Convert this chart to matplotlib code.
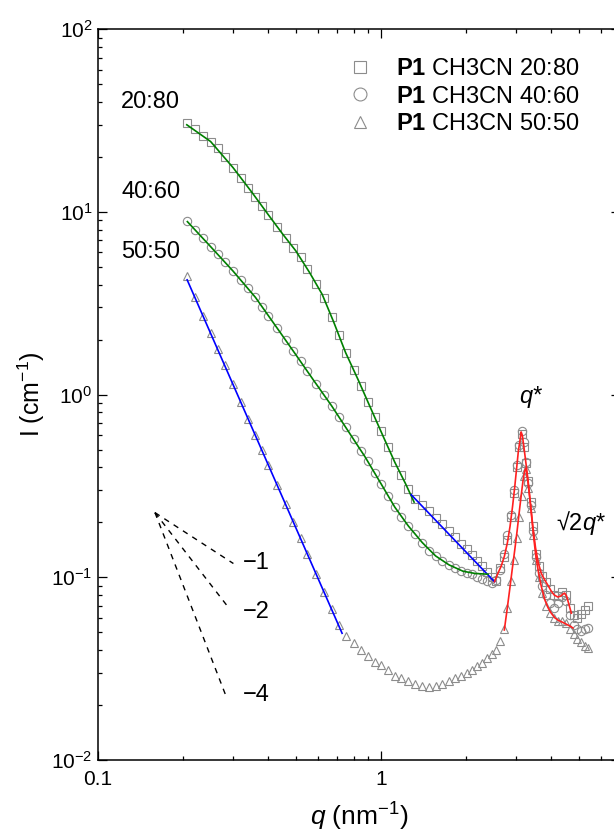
import numpy as np
import matplotlib
matplotlib.use("Agg")
import matplotlib.pyplot as plt
from matplotlib.ticker import LogLocator, NullFormatter, FixedLocator, FixedFormatter

plt.rcParams['font.family'] = ['Liberation Sans', 'DejaVu Sans']
plt.rcParams['mathtext.fontset'] = 'custom'
plt.rcParams['mathtext.rm'] = 'Liberation Sans'
plt.rcParams['mathtext.it'] = 'Liberation Sans:italic'
plt.rcParams['mathtext.bf'] = 'Liberation Sans:bold'
plt.rcParams['mathtext.default'] = 'regular'

# shared q grid (nm^-1) of the measured curves
q = [0.206, 0.22, 0.235, 0.25, 0.265, 0.28, 0.30, 0.32, 0.34, 0.36,
     0.38, 0.40, 0.43, 0.46, 0.49, 0.52, 0.55, 0.59, 0.63, 0.67,
     0.71, 0.75, 0.80, 0.85, 0.90, 0.95, 1.00, 1.06, 1.12, 1.18,
     1.25, 1.32, 1.40, 1.48, 1.56, 1.65, 1.74, 1.83, 1.92, 2.01,
     2.10, 2.19, 2.28, 2.37, 2.46, 2.55, 2.64, 2.72, 2.80, 2.88,
     2.95, 3.02, 3.08, 3.14, 3.20, 3.26, 3.32, 3.38, 3.45, 3.53,
     3.62, 3.72, 3.83, 3.95, 4.08, 4.22, 4.36, 4.50, 4.65, 4.80,
     4.95, 5.10, 5.25, 5.40]

# P1 CH3CN 20:80 (squares)
I_2080 = [30.5, 28.3, 26.1, 24.3, 22.5, 20.1, 17.5, 15.4, 13.6, 12.1,
          10.8, 9.65, 8.28, 7.23, 6.38, 5.67, 4.88, 4.05, 3.40, 2.66,
          2.12, 1.70, 1.37, 1.11, 0.91, 0.754, 0.630, 0.514, 0.426, 0.362,
          0.303, 0.27, 0.25, 0.23, 0.212, 0.195, 0.18, 0.166, 0.153, 0.142,
          0.132, 0.123, 0.115, 0.107, 0.100, 0.096, 0.112, 0.13, 0.16, 0.215,
          0.29, 0.40, 0.52, 0.61, 0.52, 0.42, 0.335, 0.26, 0.19, 0.135,
          0.115, 0.102, 0.094, 0.086, 0.080, 0.079, 0.083, 0.080, 0.068, 0.062,
          0.060, 0.063, 0.066, 0.070]

# P1 CH3CN 40:60 (circles)
I_4060 = [8.9, 8.0, 7.16, 6.46, 5.9, 5.34, 4.75, 4.25, 3.84, 3.41,
          3.03, 2.71, 2.31, 1.99, 1.73, 1.52, 1.34, 1.15, 0.994, 0.867,
          0.758, 0.665, 0.570, 0.494, 0.431, 0.373, 0.326, 0.280, 0.242, 0.213,
          0.191, 0.173, 0.155, 0.14, 0.131, 0.123, 0.117, 0.112, 0.108, 0.106,
          0.104, 0.101, 0.098, 0.095, 0.093, 0.097, 0.11, 0.135, 0.17, 0.22,
          0.30, 0.41, 0.53, 0.63, 0.55, 0.43, 0.33, 0.25, 0.18, 0.13,
          0.105, 0.09, 0.08, 0.072, 0.068, 0.072, 0.078, 0.074, 0.062, 0.055,
          0.052, 0.051, 0.052, 0.053]

# P1 CH3CN 50:50 (triangles)
I_5050 = [4.45, 3.41, 2.70, 2.17, 1.77, 1.46, 1.14, 0.908, 0.733, 0.600,
          0.495, 0.413, 0.320, 0.252, 0.202, 0.1635, 0.134, 0.1048, 0.0831, 0.0669,
          0.0545, 0.048, 0.0438, 0.040, 0.037, 0.0345, 0.033, 0.031, 0.029, 0.028,
          0.027, 0.026, 0.0255, 0.0252, 0.0255, 0.026, 0.027, 0.028, 0.029, 0.030,
          0.031, 0.0325, 0.034, 0.036, 0.038, 0.040, 0.045, 0.052, 0.068, 0.095,
          0.125, 0.165, 0.215, 0.28, 0.36, 0.39, 0.31, 0.24, 0.17, 0.125,
          0.10, 0.082, 0.07, 0.064, 0.060, 0.058, 0.058, 0.056, 0.052, 0.049,
          0.046, 0.044, 0.042, 0.041]

# model fits
green_2080_q = [0.206, 0.25, 0.30, 0.35, 0.40, 0.45, 0.50, 0.56, 0.62, 0.68,
                0.75, 0.83, 0.92, 1.02, 1.12, 1.22, 1.31]
green_2080_I = [30.0, 24.3, 17.5, 12.8, 9.65, 7.55, 6.13, 4.65, 3.54, 2.51,
                1.70, 1.21, 0.843, 0.588, 0.426, 0.327, 0.258]
blue_2080_q = [1.28, 2.52]
blue_2080_I = [0.283, 0.0946]
red_2080_q = [2.52, 2.59, 2.66, 2.73, 2.80, 2.86, 2.92, 2.97, 3.02, 3.06,
              3.10, 3.13, 3.16, 3.20, 3.25, 3.31, 3.38, 3.45, 3.52, 3.60,
              3.69, 3.79, 3.90, 4.00, 4.10, 4.22, 4.32, 4.40, 4.46, 4.53,
              4.62, 4.71]
red_2080_I = [0.0946, 0.105, 0.115, 0.13, 0.155, 0.19, 0.245, 0.31, 0.40, 0.49,
              0.56, 0.625, 0.60, 0.52, 0.43, 0.342, 0.25, 0.185, 0.145, 0.12,
              0.105, 0.097, 0.09, 0.084, 0.08, 0.078, 0.079, 0.081, 0.082, 0.079,
              0.071, 0.0636]

green_4060_q = [0.207, 0.25, 0.30, 0.36, 0.43, 0.50, 0.58, 0.67, 0.77, 0.88,
                1.00, 1.12, 1.25, 1.40, 1.56, 1.74, 1.95, 2.15, 2.39]
green_4060_I = [8.85, 6.46, 4.75, 3.41, 2.31, 1.656, 1.19, 0.867, 0.624, 0.455,
                0.326, 0.242, 0.191, 0.155, 0.131, 0.117, 0.108, 0.105, 0.104]

blue_5050_q = [0.2066, 0.729]
blue_5050_I = [4.25, 0.0494]
red_5050_q = [2.73, 2.79, 2.85, 2.91, 2.97, 3.03, 3.09, 3.14, 3.18, 3.22,
              3.245, 3.27, 3.31, 3.36, 3.40, 3.46, 3.53, 3.61, 3.69, 3.80,
              3.90, 4.00, 4.12, 4.25, 4.36, 4.46, 4.56, 4.67, 4.77]
red_5050_I = [0.0515, 0.066, 0.085, 0.11, 0.14, 0.18, 0.235, 0.29, 0.34, 0.38,
              0.395, 0.38, 0.33, 0.27, 0.225, 0.17, 0.13, 0.105, 0.089, 0.075,
              0.068, 0.0636, 0.060, 0.058, 0.057, 0.056, 0.055, 0.054, 0.0528]

# power-law guide lines (start point, end points)
guide_q0, guide_I0 = 0.159, 0.226
guide_q1 = [0.301, 0.291, 0.286]
guide_I1 = [0.119, 0.0675, 0.0216]
guide_labels = ['\u22121', '\u22122', '\u22124']
guide_label_I = [0.12, 0.0647, 0.0228]

sample_labels = ['20:80', '40:60', '50:50']
sample_label_I = [40.2, 12.9, 6.07]

fig = plt.figure(figsize=(6.14, 8.36), dpi=100)
ax = fig.add_axes([0.1596, 0.0909, 0.8502, 0.8741])

mk = dict(ls='none', mfc='none', mec='#8c8c8c', mew=0.8, ms=6)
ax.plot(q, I_2080, marker='s', label=r'$\mathbf{P1}$ CH3CN 20:80', **mk)
ax.plot(q, I_4060, marker='o', label=r'$\mathbf{P1}$ CH3CN 40:60', **mk)
ax.plot(q, I_5050, marker='^', label=r'$\mathbf{P1}$ CH3CN 50:50', **mk)

lw = 1.2
ax.plot(green_2080_q, green_2080_I, color='#008000', lw=lw)
ax.plot(blue_2080_q, blue_2080_I, color='#0000ff', lw=lw)
ax.plot(red_2080_q, red_2080_I, color='#ff2020', lw=lw)
ax.plot(green_4060_q, green_4060_I, color='#008000', lw=lw)
ax.plot(blue_5050_q, blue_5050_I, color='#0000ff', lw=lw)
ax.plot(red_5050_q, red_5050_I, color='#ff2020', lw=lw)

for q1, I1 in zip(guide_q1, guide_I1):
    ax.plot([guide_q0, q1], [guide_I0, I1], color='black', lw=1.0, ls=(0, (4, 4)))
for lab, yv in zip(guide_labels, guide_label_I):
    ax.text(0.326, yv, lab, fontsize=17, va='center', ha='left')

for lab, yv in zip(sample_labels, sample_label_I):
    ax.text(0.1206, yv, lab, fontsize=17, va='center', ha='left')

ax.text(3.38, 0.977, 'q*', fontsize=17, style='italic', ha='center', va='center')
ax.text(4.17, 0.198, '\u221a2$\\mathit{q}$*', fontsize=17, ha='left', va='center')

ax.set_xscale('log')
ax.set_yscale('log')
ax.set_xlim(0.1, 7.0)
ax.set_ylim(0.01, 100)

ax.xaxis.set_major_locator(FixedLocator([0.1, 1]))
ax.xaxis.set_major_formatter(FixedFormatter(['0.1', '1']))
ax.xaxis.set_minor_locator(LogLocator(base=10, subs=np.arange(2, 10), numticks=20))
ax.xaxis.set_minor_formatter(NullFormatter())
ax.yaxis.set_major_locator(LogLocator(base=10, numticks=10))
ax.yaxis.set_minor_locator(LogLocator(base=10, subs=np.arange(2, 10), numticks=20))
ax.yaxis.set_minor_formatter(NullFormatter())

ax.tick_params(which='both', direction='in', top=True, right=True, width=0.9)
ax.tick_params(which='major', length=6.5, labelsize=15)
ax.tick_params(axis='x', which='major', pad=7)
ax.tick_params(axis='y', which='major', pad=4)
ax.tick_params(which='minor', length=3.2)
for sp in ax.spines.values():
    sp.set_linewidth(1.1)

ax.set_xlabel('$\\mathit{q}$ (nm$^{-1}$)', fontsize=19, labelpad=9)
ax.set_ylabel('I (cm$^{-1}$)', fontsize=18, labelpad=3)

ax.legend(loc='upper left', bbox_to_anchor=(0.4744, 0.960), frameon=False,
          fontsize=17, markerscale=1.55, handlelength=1.2, handletextpad=0.93,
          labelspacing=0.22, borderpad=0, borderaxespad=0)

fig.savefig('out.png', dpi=100)
